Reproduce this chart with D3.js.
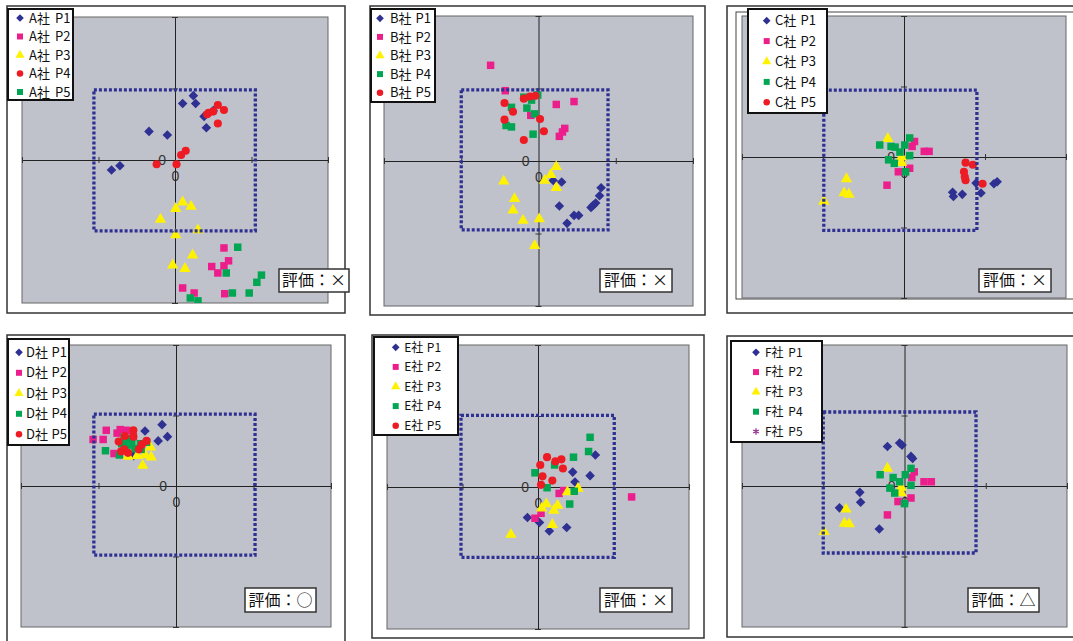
<!DOCTYPE html>
<html>
<head>
<meta charset="utf-8">
<script src="https://cdn.jsdelivr.net/npm/d3@7"></script>
<style>
  html, body { margin: 0; padding: 0; background: #fff; }
  svg { display: block; font-family: "Noto Sans CJK JP", "Noto Sans", sans-serif; }
</style>
</head>
<body>
<svg id="chart" width="1073" height="641"></svg>
<script>
// ---- Data: [x, y] positions of each sample, one array per company and series ----
// A社
const aP1 = [[0.24,0.90],[0.10,0.79],[0.27,0.79],[0.38,0.61],[0.50,0.69],[0.41,0.45],[-0.34,0.40],[-0.10,0.35],[-0.83,-0.14],[-0.72,-0.08]];
const aP2 = [[0.64,-1.23],[0.70,-1.41],[0.64,-1.48],[0.48,-1.49],[0.56,-1.58],[0.10,-1.79],[0.25,-1.86],[0.65,-1.87]];
const aP3 = [[0.10,-0.59],[0.01,-0.68],[0.21,-0.65],[-0.19,-0.83],[0.30,-0.98],[0.01,-1.05],[0.23,-1.33],[-0.03,-1.47],[0.13,-1.52]];
const aP4 = [[0.44,0.66],[0.50,0.68],[0.56,0.77],[0.64,0.70],[0.56,0.51],[0.42,0.64],[0.14,0.13],[0.08,0.07],[-0.24,-0.06],[0.02,-0.06]];
const aP5 = [[0.82,-1.22],[0.67,-1.58],[1.13,-1.61],[1.07,-1.71],[0.97,-1.86],[0.75,-1.86],[0.20,-1.93],[0.30,-1.97]];
// B社
const bP1 = [[0.19,-0.27],[0.30,-0.29],[0.81,-0.37],[0.79,-0.48],[0.74,-0.58],[0.71,-0.61],[0.68,-0.64],[0.27,-0.62],[0.46,-0.75],[0.52,-0.75],[0.37,-0.86]];
const bP2 = [[-0.62,1.32],[-0.43,0.97],[0.46,0.82],[0.23,0.78],[0.34,0.45],[0.31,0.40],[0.27,0.34],[-0.10,0.63]];
const bP3 = [[0.23,-0.08],[0.16,-0.19],[0.08,-0.27],[0.23,-0.37],[-0.45,-0.28],[-0.31,-0.52],[-0.33,-0.68],[-0.20,-0.82],[0.01,-0.80],[-0.05,-1.17]];
const bP4 = [[-0.19,0.88],[-0.09,0.84],[-0.01,0.91],[-0.35,0.74],[-0.15,0.73],[-0.05,0.65],[-0.42,0.49],[-0.35,0.47],[-0.07,0.37]];
const bP5 = [[-0.19,0.86],[-0.11,0.89],[-0.04,0.90],[-0.44,0.80],[-0.33,0.68],[-0.44,0.57],[0.02,0.58],[0.07,0.41],[-0.19,0.29]];
// C社
const cP1 = [[0.60,-0.50],[0.61,-0.56],[0.72,-0.53],[0.95,-0.51],[0.89,-0.37],[1.11,-0.38],[1.15,-0.35]];
const cP2 = [[0.13,0.22],[0.10,0.15],[0.25,0.08],[0.31,0.08],[0.07,-0.16],[-0.07,-0.21],[-0.21,-0.40]];
const cP3 = [[-0.20,0.26],[-0.03,0.00],[-0.03,-0.08],[-0.71,-0.31],[-0.74,-0.51],[-0.68,-0.53],[-0.99,-0.63]];
const cP4 = [[-0.30,0.17],[-0.16,0.15],[-0.11,0.14],[0.01,0.17],[0.07,0.27],[-0.05,0.07],[0.07,0.02],[-0.19,-0.04],[-0.12,-0.09],[0.02,-0.21]];
const cP5 = [[0.76,-0.08],[0.85,-0.11],[0.74,-0.21],[0.75,-0.28],[0.76,-0.33],[0.97,-0.38]];
// D社
const dP1 = [[-0.18,0.87],[-0.40,0.78],[-0.11,0.70],[-0.23,0.64],[-0.55,0.43]];
const dP2 = [[-0.90,0.79],[-0.72,0.80],[-0.64,0.79],[-0.76,0.75],[-1.07,0.66],[-0.94,0.66],[-0.55,0.70],[-0.80,0.46]];
const dP3 = [[-0.33,0.55],[-0.50,0.43],[-0.40,0.44],[-0.32,0.41],[-0.43,0.29],[-0.62,0.42]];
const dP4 = [[-0.91,0.50],[-0.73,0.44],[-0.67,0.69],[-0.57,0.63],[-0.38,0.62],[-0.53,0.53],[-0.62,0.58],[-0.46,0.60],[-0.60,0.67],[-0.70,0.60],[-0.45,0.52]];
const dP5 = [[-0.55,0.79],[-0.66,0.71],[-0.55,0.70],[-0.74,0.63],[-0.38,0.64],[-0.44,0.59],[-0.48,0.52],[-0.67,0.52],[-0.71,0.49],[-0.62,0.47]];
// E社
const eP1 = [[0.76,0.45],[0.46,0.21],[0.69,0.16],[0.49,0.07],[-0.14,-0.43],[0.02,-0.50],[0.15,-0.62],[0.38,-0.57]];
const eP2 = [[1.24,-0.14],[0.28,-0.09],[0.34,-0.05],[0.04,-0.37],[-0.04,-0.44]];
const eP3 = [[0.53,-0.02],[0.39,-0.07],[0.11,-0.24],[0.26,-0.26],[0.05,-0.30],[0.21,-0.33],[0.19,-0.53],[-0.36,-0.67]];
const eP4 = [[0.69,0.70],[0.67,0.50],[0.47,0.42],[0.22,0.31],[-0.04,0.20],[0.12,-0.01],[0.48,-0.06],[0.42,-0.24]];
const eP5 = [[0.12,0.42],[0.23,0.36],[0.31,0.39],[0.03,0.31],[0.33,0.26],[0.06,0.15],[0.19,0.09],[0.04,0.03]];
// F社
const fP1 = [[-0.21,0.56],[-0.06,0.61],[-0.03,0.58],[0.08,0.42],[0.10,0.39],[-0.55,-0.09],[-0.54,-0.23],[-0.80,-0.31],[-0.31,-0.61]];
const fP2 = [[0.12,0.20],[0.09,0.12],[0.24,0.06],[0.33,0.06],[0.08,-0.17],[-0.08,-0.22],[-0.21,-0.41]];
const fP3 = [[-0.21,0.25],[-0.04,-0.02],[-0.04,-0.10],[-0.72,-0.33],[-0.74,-0.53],[-0.68,-0.54],[-0.99,-0.65]];
const fP4 = [[-0.30,0.16],[-0.14,0.12],[0.01,0.16],[0.08,0.25],[-0.06,0.06],[0.08,0.01],[-0.18,-0.03],[-0.12,-0.10],[0.00,-0.25]];
const fP5 = [];

// Target range box of each company: [xMin, xMax, yMin, yMax]
const boxA = [-1.06, 1.05, -0.99, 0.98];
const boxB = [-1.00, 0.90, -0.95, 0.98];
const boxC = [-0.99, 0.90, -1.04, 0.95];
const boxD = [-1.06, 1.02, -0.98, 1.02];
const boxE = [-1.02, 1.01, -0.99, 1.01];
const boxF = [-1.00, 0.88, -0.95, 1.05];

const companies = ["A社", "B社", "C社", "D社", "E社", "F社"];
const pointNames = ["P1", "P2", "P3", "P4", "P5"];
const ratings = ["×", "×", "×", "○", "×", "△"];
const axisDomain = [-2, 2];
const tickValues = [-2, -1, 0, 1, 2];

// ---- Marker styles ----
const NAVY = "#2e3192";
const MARK = {
  diamond:  { kind: "diamond",  color: NAVY },
  pink:     { kind: "square",   color: "#ec1e8c" },
  triangle: { kind: "triangle", color: "#fff200" },
  red:      { kind: "circle",   color: "#ed1c24" },
  green:    { kind: "square",   color: "#00a651" },
  star:     { kind: "asterisk", color: "#92278f" }
};
const markersA = [MARK.diamond, MARK.pink, MARK.triangle, MARK.red, MARK.green];
const markersStd = [MARK.diamond, MARK.pink, MARK.triangle, MARK.green, MARK.red];
const markersF = [MARK.diamond, MARK.pink, MARK.triangle, MARK.green, MARK.star];

// ---- Panel layout (page pixels) ----
const panels = [
  { series: [aP1, aP2, aP3, aP4, aP5], box: boxA, markers: markersA,
    frame: [7, 6, 345, 313], plot: [22, 17, 328, 303],
    legend: { r: [8, 9, 73, 100], y0: 18, dy: 18.5, mx: 20, tx: 29, nx: 26, fs: 13 },
    rating: [279, 269, 349, 292] },
  { series: [bP1, bP2, bP3, bP4, bP5], box: boxB, markers: markersStd,
    frame: [370, 6, 705, 315], plot: [384, 16, 693, 306],
    legend: { r: [371, 9, 435, 102], y0: 18.3, dy: 18.6, mx: 380, tx: 390, nx: 25.5, fs: 13 },
    rating: [600, 269, 672, 292] },
  { series: [cP1, cP2, cP3, cP4, cP5], box: boxC, markers: markersStd,
    frame: [727, 6, 1090, 313], inner: [736, 12, 1090, 299], plot: [742, 16, 1066, 298],
    legend: { r: [748, 9, 827, 113], y0: 20.7, dy: 20.4, mx: 766.7, tx: 775, nx: 25.5, fs: 13 },
    rating: [979, 269, 1051, 292] },
  { series: [dP1, dP2, dP3, dP4, dP5], box: boxD, markers: markersStd,
    frame: [7, 335, 345, 670], plot: [21, 345, 331, 627],
    legend: { r: [8, 339, 69, 445], y0: 352.3, dy: 20.5, mx: 19, tx: 26, nx: 25.5, fs: 13 },
    rating: [245, 588, 316, 612] },
  { series: [eP1, eP2, eP3, eP4, eP5], box: boxE, markers: markersStd,
    frame: [372, 335, 704, 638], plot: [387, 345, 689, 629],
    legend: { r: [374, 337, 458, 435], y0: 347.3, dy: 19.6, mx: 395.7, tx: 404.3, nx: 22.5, fs: 12 },
    rating: [600, 588, 672, 612] },
  { series: [fP1, fP2, fP3, fP4, fP5], box: boxF, markers: markersF,
    frame: [727, 336, 1090, 637], plot: [742, 345, 1067, 627],
    legend: { r: [731, 341, 822, 442], y0: 352.3, dy: 19.8, mx: 756, tx: 765, nx: 23.3, fs: 12 },
    rating: [968, 588, 1039, 612] }
];

const svg = d3.select("#chart");

function markerPath(kind, k) {
  switch (kind) {
    case "diamond":  return d3.symbol(d3.symbolSquare, 46 * k * k)();
    case "square":   return d3.symbol(d3.symbolSquare, 56 * k * k)();
    case "triangle": return d3.symbol(d3.symbolTriangle, 56 * k * k)();
    case "circle":   return d3.symbol(d3.symbolCircle, 52 * k * k)();
    case "asterisk": return d3.symbol(d3.symbolAsterisk, 44 * k * k)();
  }
}

function drawMarker(g, m, x, y, k) {
  const p = g.append("path")
    .attr("d", markerPath(m.kind, k))
    .attr("transform", `translate(${x},${y})` + (m.kind === "diamond" ? " rotate(45)" : ""));
  if (m.kind === "asterisk") {
    p.attr("fill", "none").attr("stroke", m.color).attr("stroke-width", 1.2);
  } else {
    p.attr("fill", m.color);
  }
  return p;
}

panels.forEach((pn, idx) => {
  const g = svg.append("g");
  const [fx0, fy0, fx1, fy1] = pn.frame;
  const [px0, py0, px1, py1] = pn.plot;

  // outer frame
  g.append("rect").attr("x", fx0).attr("y", fy0)
    .attr("width", fx1 - fx0).attr("height", fy1 - fy0)
    .attr("fill", "#fff").attr("stroke", "#333").attr("stroke-width", 1.5);
  if (pn.inner) {
    const [ix0, iy0, ix1, iy1] = pn.inner;
    g.append("rect").attr("x", ix0).attr("y", iy0)
      .attr("width", ix1 - ix0).attr("height", iy1 - iy0)
      .attr("fill", "#fff").attr("stroke", "#444").attr("stroke-width", 1);
  }

  // plot area
  g.append("rect").attr("x", px0).attr("y", py0)
    .attr("width", px1 - px0).attr("height", py1 - py0)
    .attr("fill", "#c0c2cb").attr("stroke", "#666").attr("stroke-width", 1);

  const x = d3.scaleLinear().domain(axisDomain).range([px0, px1]);
  const y = d3.scaleLinear().domain(axisDomain).range([py1, py0]);

  // axes crossing at the origin
  const xAxis = g.append("g")
    .attr("transform", `translate(0,${y(0)})`)
    .call(d3.axisBottom(x).tickValues(tickValues).tickSizeOuter(0).tickSizeInner(3)
      .tickFormat(d => d === 0 ? "0" : ""));
  xAxis.select(".domain").attr("stroke", "#222");
  xAxis.selectAll(".tick line").attr("y1", -3).attr("y2", 3).attr("stroke", "#333")
    .filter(d => d === 0).remove();
  xAxis.selectAll(".tick text").attr("y", 11).attr("dy", "0.71em")
    .attr("font-size", 14).attr("fill", "#333")
    .attr("font-family", "'Liberation Sans', Arial, sans-serif");

  const yAxis = g.append("g")
    .attr("transform", `translate(${x(0)},0)`)
    .call(d3.axisLeft(y).tickValues(tickValues).tickSizeOuter(0).tickSizeInner(3)
      .tickFormat(d => d === 0 ? "0" : ""));
  yAxis.select(".domain").attr("stroke", "#222");
  yAxis.selectAll(".tick line").attr("x1", -3).attr("x2", 3).attr("stroke", "#333")
    .filter(d => d === 0).remove();
  yAxis.selectAll(".tick text").attr("x", -9).attr("dy", "0.32em")
    .attr("font-size", 14).attr("fill", "#333")
    .attr("font-family", "'Liberation Sans', Arial, sans-serif");

  // scatter points, clipped to the plot area
  const clipId = "clip" + idx;
  svg.append("clipPath").attr("id", clipId).append("rect")
    .attr("x", px0).attr("y", py0).attr("width", px1 - px0).attr("height", py1 - py0);
  const pts = g.append("g").attr("clip-path", `url(#${clipId})`);
  pn.series.forEach((data, si) => {
    const m = pn.markers[si];
    data.forEach(d => drawMarker(pts, m, x(d[0]), y(d[1]), 1));
  });

  // dotted target range box
  const [bx0, bx1, by0, by1] = pn.box;
  g.append("rect")
    .attr("x", x(bx0)).attr("y", y(by1))
    .attr("width", x(bx1) - x(bx0)).attr("height", y(by0) - y(by1))
    .attr("fill", "none").attr("stroke", NAVY).attr("stroke-width", 3.3)
    .attr("stroke-dasharray", "3,2");

  // legend
  const L = pn.legend;
  const [lx0, ly0, lx1, ly1] = L.r;
  g.append("rect").attr("x", lx0).attr("y", ly0)
    .attr("width", lx1 - lx0).attr("height", ly1 - ly0)
    .attr("fill", "#fff").attr("stroke", "#111").attr("stroke-width", 2);
  pointNames.forEach((nm, si) => {
    const cy = L.y0 + si * L.dy;
    drawMarker(g, pn.markers[si], L.mx, cy, 0.8);
    const t = g.append("text").attr("y", cy).attr("dy", "0.36em")
      .attr("font-size", L.fs).attr("fill", "#111");
    t.append("tspan").attr("x", L.tx).text(companies[idx]);
    t.append("tspan").attr("x", L.tx + L.nx).text(nm);
  });

  // rating label
  const [rx0, ry0, rx1, ry1] = pn.rating;
  g.append("rect").attr("x", rx0).attr("y", ry0)
    .attr("width", rx1 - rx0).attr("height", ry1 - ry0)
    .attr("fill", "#fff").attr("stroke", "#333").attr("stroke-width", 1.5);
  g.append("text").attr("x", (rx0 + rx1) / 2).attr("y", (ry0 + ry1) / 2).attr("dy", "0.36em")
    .attr("text-anchor", "middle").attr("font-size", 16).attr("fill", "#111")
    .text("評価：" + ratings[idx]);
});
</script>
</body>
</html>
